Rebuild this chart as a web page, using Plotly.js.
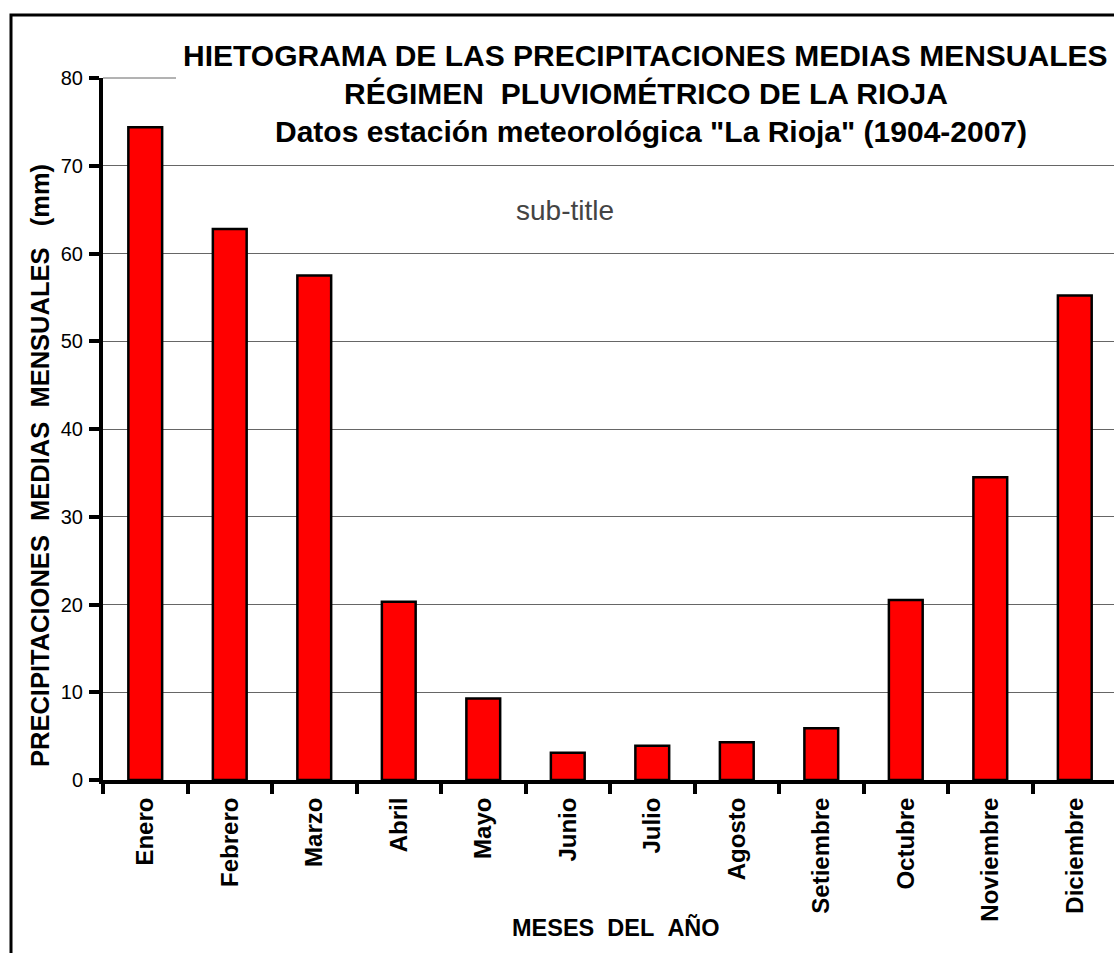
<!DOCTYPE html>
<html>
<head>
<meta charset="utf-8">
<script src="https://cdn.plot.ly/plotly-3.0.1.min.js"></script>
<style>
html,body{margin:0;padding:0;background:#fff;overflow:hidden;}
#chart{width:1114px;height:953px;}
</style>
</head>
<body>
<div id="chart"></div>
<script>
// ---- data ----
const months = ["Enero","Febrero","Marzo","Abril","Mayo","Junio","Julio","Agosto","Setiembre","Octubre","Noviembre","Diciembre"];
const precip = [74.4, 62.8, 57.5, 20.3, 9.3, 3.1, 3.9, 4.3, 5.9, 20.5, 34.5, 55.2];
const titleLines = [
  "HIETOGRAMA DE LAS PRECIPITACIONES MEDIAS MENSUALES",
  "RÉGIMEN\u00a0\u00a0PLUVIOMÉTRICO DE LA RIOJA",
  "Datos estación meteorológica \"La Rioja\" (1904-2007)"
];
const subTitle = "sub-title";
const xTitle = "MESES\u00a0\u00a0DEL\u00a0\u00a0AÑO";
const yTitle = "PRECIPITACIONES\u00a0\u00a0MEDIAS\u00a0\u00a0MENSUALES\u00a0\u00a0\u00a0(mm)";

// ---- layout helpers (pixel -> paper) ----
const W = 1114, H = 953;
const mL = 103, mR = 0, mT = 78, mB = 173;
const pw = W - mL - mR, ph = H - mT - mB;
const px = x => (x - mL) / pw;
const py = y => (H - mB - y) / ph;
const FONT = "Liberation Sans, Arial, sans-serif";

const trace = {
  type: "bar",
  x: months,
  y: precip,
  width: 0.4,
  marker: {color: "#ff0000", line: {color: "#000000", width: 2.5}},
  hoverinfo: "x+y"
};

const annotations = [
  {text: "<b>" + titleLines[0] + "</b>", x: px(645), y: py(56)},
  {text: "<b>" + titleLines[1] + "</b>", x: px(646), y: py(94)},
  {text: "<b>" + titleLines[2] + "</b>", x: px(651), y: py(131)}
].map(a => Object.assign(a, {xref: "paper", yref: "paper", xanchor: "center", yanchor: "middle",
  showarrow: false, font: {family: FONT, size: 30, color: "#000"}}));

annotations.push({text: subTitle, xref: "paper", yref: "paper", x: px(565), y: py(210),
  xanchor: "center", yanchor: "middle", showarrow: false,
  font: {family: FONT, size: 28, color: "#444"}});
annotations.push({text: "<b>" + xTitle + "</b>", xref: "paper", yref: "paper", x: px(616), y: py(927),
  xanchor: "center", yanchor: "middle", showarrow: false,
  font: {family: FONT, size: 23.5, color: "#000"}});
annotations.push({text: "<b>" + yTitle + "</b>", xref: "paper", yref: "paper", x: px(40), y: py(466),
  xanchor: "center", yanchor: "middle", textangle: -90, showarrow: false,
  font: {family: FONT, size: 25.5, color: "#000"}});

const layout = {
  width: W, height: H,
  margin: {l: mL, r: mR, t: mT, b: mB, pad: 0},
  paper_bgcolor: "#fff", plot_bgcolor: "#fff",
  showlegend: false,
  bargap: 0.6,
  xaxis: {
    type: "category",
    range: [-0.5, 11.464],
    tickson: "boundaries",
    ticks: "outside", ticklen: 10, tickwidth: 4, tickcolor: "#000",
    showline: true, linecolor: "#000", linewidth: 4,
    showgrid: false, zeroline: false,
    tickangle: -90,
    tickfont: {family: FONT, size: 24, color: "#000", weight: "bold"},
    ticklabelstandoff: 4
  },
  yaxis: {
    range: [0, 80], dtick: 10, tick0: 0,
    ticks: "outside", ticklen: 10, tickwidth: 4, tickcolor: "#000",
    showline: true, linecolor: "#000", linewidth: 4,
    showgrid: true, gridcolor: "#666", gridwidth: 1,
    zeroline: false,
    tickfont: {family: FONT, size: 20, color: "#000"},
    ticklabelstandoff: 2
  },
  shapes: [
    {type: "rect", xref: "paper", yref: "paper", layer: "between",
      x0: px(176), x1: px(1130), y0: py(150), y1: py(30),
      fillcolor: "#fff", line: {width: 0}},
    {type: "line", xref: "paper", yref: "paper", layer: "between",
      x0: 0, x1: px(176), y0: 1, y1: 1,
      line: {color: "#666", width: 1}},
    {type: "rect", xref: "paper", yref: "paper", layer: "above",
      x0: px(11), x1: px(1300), y0: py(1200), y1: py(15),
      fillcolor: "rgba(0,0,0,0)", line: {color: "#000", width: 3}}
  ],
  annotations: annotations
};

Plotly.newPlot("chart", [trace], layout, {displayModeBar: false, staticPlot: true});
</script>
</body>
</html>
